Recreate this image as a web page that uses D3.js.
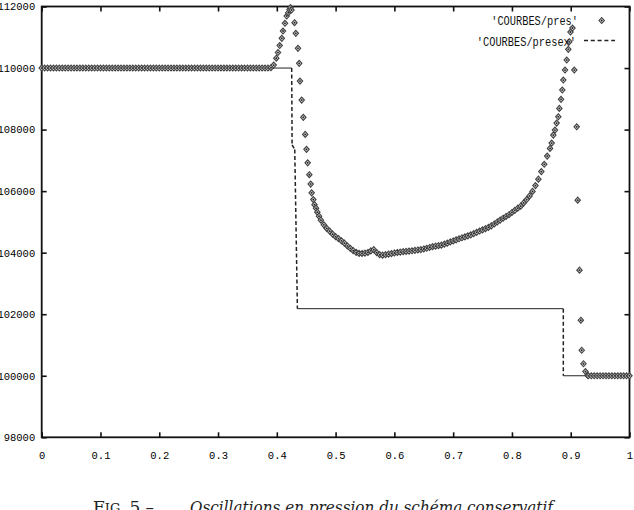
<!DOCTYPE html>
<meta charset="utf-8">
<style>
  body {
    margin: 0;
    background-color: white;
  }
  svg { display: block; }
  .axis text {
    font-family: 'Liberation Mono', 'DejaVu Sans Mono', monospace;
    font-size: 10.5px;
    fill: #000;
  }
  .axis line { stroke: #111; stroke-width: 1.6px; }
  .legend text {
    font-family: 'Liberation Mono', 'DejaVu Sans Mono', monospace;
    font-size: 13.5px;
    fill: #111;
  }
  .caption { font-family: 'DejaVu Serif', 'Liberation Serif', serif; fill: #222; }
</style>
<script src="https://d3js.org/d3.v7.min.js"></script>
<body>
<div id="my_dataviz"></div>
<script>
// 'COURBES/pres' : numerical solution, [x, pressure]
var presLeftState = [
  [0,110000],[0.005,110000],[0.01,110000],[0.015,110000],[0.02,110000],[0.025,110000],[0.03,110000],[0.035,110000],
  [0.04,110000],[0.045,110000],[0.05,110000],[0.055,110000],[0.06,110000],[0.065,110000],[0.07,110000],[0.075,110000],
  [0.08,110000],[0.085,110000],[0.09,110000],[0.095,110000],[0.1,110000],[0.105,110000],[0.11,110000],[0.115,110000],
  [0.12,110000],[0.125,110000],[0.13,110000],[0.135,110000],[0.14,110000],[0.145,110000],[0.15,110000],[0.155,110000],
  [0.16,110000],[0.165,110000],[0.17,110000],[0.175,110000],[0.18,110000],[0.185,110000],[0.19,110000],[0.195,110000],
  [0.2,110000],[0.205,110000],[0.21,110000],[0.215,110000],[0.22,110000],[0.225,110000],[0.23,110000],[0.235,110000],
  [0.24,110000],[0.245,110000],[0.25,110000],[0.255,110000],[0.26,110000],[0.265,110000],[0.27,110000],[0.275,110000],
  [0.28,110000],[0.285,110000],[0.29,110000],[0.295,110000],[0.3,110000],[0.305,110000],[0.31,110000],[0.315,110000],
  [0.32,110000],[0.325,110000],[0.33,110000],[0.335,110000],[0.34,110000],[0.345,110000],[0.35,110000],[0.355,110000],
  [0.36,110000],[0.365,110000],[0.37,110000],[0.375,110000],[0.38,110000],[0.385,110000],[0.39,110010]
];
var presLeftPeak = [
  [0.3947,110098],[0.3991,110319],[0.4020,110504],[0.4049,110732],[0.4085,110966],[0.4105,111203],
  [0.4139,111454],[0.4168,111691],[0.4195,111798],[0.4216,111902],[0.4233,111967],[0.4250,111886],
  [0.4301,111473],[0.4323,111128],[0.4360,110641],[0.4381,110153],[0.4394,109577],[0.4423,108959],
  [0.4451,108397],[0.4483,107844],[0.4505,107359],[0.4525,106920],[0.4553,106533],[0.4576,106228],
  [0.4593,105945],[0.4621,105724],[0.4641,105561],[0.4667,105447],[0.4689,105317],[0.4718,105187]
];
var presMiddle = [
  [0.475,105057],[0.48,104904],[0.485,104787],[0.49,104699],[0.495,104602],[0.5,104520],[0.505,104455],
  [0.51,104384],[0.515,104309],[0.52,104218],[0.525,104140],[0.53,104065],[0.535,104010],[0.54,103977],
  [0.545,103974],[0.55,103984],[0.555,104007],[0.56,104059],[0.565,104098],[0.57,104000],[0.575,103935],
  [0.58,103919],[0.585,103935],[0.59,103951],[0.595,103971],[0.6,103990],[0.605,104007],[0.61,104020],
  [0.615,104033],[0.62,104042],[0.625,104052],[0.63,104062],[0.635,104075],[0.64,104088],[0.645,104101],
  [0.65,104120],[0.655,104143],[0.66,104169],[0.665,104195],[0.67,104211],[0.675,104228],[0.68,104244],
  [0.685,104276],[0.69,104309],[0.695,104348],[0.7,104381],[0.705,104416],[0.71,104452],[0.715,104485],
  [0.72,104514],[0.725,104546],[0.73,104579],[0.735,104621],[0.74,104660],[0.745,104703],[0.75,104741],
  [0.755,104781],[0.76,104820],[0.765,104872],[0.77,104933],[0.775,104998],[0.78,105060],[0.785,105119],
  [0.79,105177],[0.795,105233],[0.8,105307],[0.805,105376],[0.81,105447],[0.815,105512],[0.82,105616],
  [0.825,105727],[0.83,105844],[0.835,105990],[0.84,106179],[0.845,106390],[0.85,106634],[0.855,106872],
  [0.86,107138]
];
var presRightPeak = [
  [0.8648,107389],[0.8676,107561],[0.8704,107821],[0.8732,107984],[0.8761,108211],[0.8789,108416],
  [0.8806,108689],[0.8835,108982],[0.8857,109285],[0.8874,109610],[0.8903,109935],[0.8932,110260],
  [0.8959,110608],[0.8976,110855],[0.8996,111171],[0.9030,111301],[0.9061,109935],[0.9102,108091],
  [0.9119,105707],[0.9149,103431],[0.9172,101805],[0.9187,100829],[0.9217,100390],[0.9251,100137],
  [0.9285,100016]
];
var presRightState = [
  [0.93,100000],[0.935,100000],[0.94,100000],[0.945,100000],[0.95,100000],[0.955,100000],[0.96,100000],
  [0.965,100000],[0.97,100000],[0.975,100000],[0.98,100000],[0.985,100000],[0.99,100000],[0.995,100000],[1,100000]
];

// 'COURBES/presex' : exact solution
var presexX = [0, 0.4253, 0.4260, 0.4305, 0.4350, 0.8874, 0.8874, 1];
var presexY = [110000, 110000, 107500, 107350, 102180, 102180, 100000, 100000];

var xTicks = [0, 0.1, 0.2, 0.3, 0.4, 0.5, 0.6, 0.7, 0.8, 0.9, 1];
var xTickLabels = ["0", "0.1", "0.2", "0.3", "0.4", "0.5", "0.6", "0.7", "0.8", "0.9", "1"];
var yTicks = [98000, 100000, 102000, 104000, 106000, 108000, 110000, 112000];
var yTickLabels = ["98000", "100000", "102000", "104000", "106000", "108000", "110000", "112000"];
var legendLabels = ["'COURBES/pres'", "'COURBES/presex'"];
var captionText = "Oscillations en pression du schéma conservatif";

var width = 634, height = 510;

var svg = d3.select("#my_dataviz")
  .append("svg")
    .attr("width", width)
    .attr("height", height);

var x = d3.scaleLinear().domain([0, 1]).range([41.7, 629.5]);
var y = d3.scaleLinear().domain([98000, 112000]).range([437.3, 6.5]);

// axes, ticks inward on the four sides (gnuplot style)
svg.append("g")
  .attr("class", "axis")
  .attr("transform", "translate(0," + y(98000) + ")")
  .call(d3.axisBottom(x).tickValues(xTicks).tickSize(-5).tickPadding(14)
    .tickFormat(function(d, i){ return xTickLabels[i]; }))
  .call(function(g){ g.select(".domain").remove(); });

svg.append("g")
  .attr("class", "axis")
  .attr("transform", "translate(0," + y(112000) + ")")
  .call(d3.axisTop(x).tickValues(xTicks).tickSize(-5).tickFormat(""))
  .call(function(g){ g.select(".domain").remove(); });

svg.append("g")
  .attr("class", "axis")
  .attr("transform", "translate(" + x(0) + ",0)")
  .call(d3.axisLeft(y).tickValues(yTicks).tickSize(-5).tickPadding(6.5)
    .tickFormat(function(d, i){ return yTickLabels[i]; }))
  .call(function(g){ g.select(".domain").remove(); });

svg.append("g")
  .attr("class", "axis")
  .attr("transform", "translate(" + x(1) + ",0)")
  .call(d3.axisRight(y).tickValues(yTicks).tickSize(-5).tickFormat(""))
  .call(function(g){ g.select(".domain").remove(); });

svg.append("rect")
  .attr("x", x(0))
  .attr("y", y(112000))
  .attr("width", x(1) - x(0))
  .attr("height", y(98000) - y(112000))
  .attr("fill", "none")
  .attr("stroke", "#111")
  .attr("stroke-width", 1.8);

// exact solution: flat parts look solid, steep parts dashed
var presex = presexX.map(function(v, i){ return [v, presexY[i]]; });
var segs = d3.pairs(presex);
function isFlat(d) {
  return Math.abs(x(d[1][0]) - x(d[0][0])) > Math.abs(y(d[1][1]) - y(d[0][1]));
}
svg.append("g")
  .selectAll("line")
  .data(segs)
  .enter()
  .append("line")
    .attr("x1", function(d){ return x(d[0][0]); })
    .attr("y1", function(d){ return y(d[0][1]); })
    .attr("x2", function(d){ return x(d[1][0]); })
    .attr("y2", function(d){ return y(d[1][1]); })
    .attr("stroke", "#222")
    .attr("stroke-width", function(d){ return isFlat(d) ? 1 : 1.5; })
    .attr("stroke-dasharray", function(d){ return isFlat(d) ? null : "4,2.5"; });

// numerical points as small diamonds
var diamond = {
  draw: function(ctx, size) {
    ctx.moveTo(0, -3);
    ctx.lineTo(2.7, 0);
    ctx.lineTo(0, 3);
    ctx.lineTo(-2.7, 0);
    ctx.closePath();
  }
};
var pres = presLeftState.concat(presLeftPeak, presMiddle, presRightPeak, presRightState);

function drawMarker(sel) {
  sel.append("path")
    .attr("d", d3.symbol().type(diamond)())
    .attr("fill", "#c8c8c8")
    .attr("stroke", "#404040")
    .attr("stroke-width", 1.1);
  sel.append("circle")
    .attr("r", 0.9)
    .attr("fill", "#222");
}

svg.append("g")
  .selectAll("g")
  .data(pres)
  .enter()
  .append("g")
    .attr("transform", function(d){ return "translate(" + x(d[0]) + "," + y(d[1]) + ")"; })
    .call(drawMarker);

// legend
var legend = svg.append("g").attr("class", "legend");
legend.selectAll("text")
  .data(legendLabels)
  .enter()
  .append("text")
    .attr("x", function(d, i){ return i == 0 ? 578 : 576; })
    .attr("y", function(d, i){ return 25 + i * 21; })
    .attr("text-anchor", "end")
    .attr("textLength", function(d){ return d.length * 6.2; })
    .attr("lengthAdjust", "spacingAndGlyphs")
    .text(function(d){ return d; });

legend.append("g")
  .attr("transform", "translate(601.7,20.5)")
  .call(drawMarker);

legend.append("line")
  .attr("x1", 584).attr("x2", 615)
  .attr("y1", 40.5).attr("y2", 40.5)
  .attr("stroke", "#222")
  .attr("stroke-width", 1.3)
  .attr("stroke-dasharray", "4,2.8");

// caption (cut by the bottom edge like the original)
var cap = svg.append("text")
  .attr("class", "caption")
  .attr("x", 93)
  .attr("y", 513)
  .attr("font-size", "17px");
cap.append("tspan").text("F");
cap.append("tspan").attr("font-size", "13px").text("IG.");
cap.append("tspan").text(" 5 –");

svg.append("text")
  .attr("class", "caption")
  .attr("x", 190)
  .attr("y", 513)
  .attr("font-size", "17px")
  .attr("font-style", "italic")
  .attr("textLength", 363)
  .attr("lengthAdjust", "spacingAndGlyphs")
  .text(captionText);
</script>
</body>
